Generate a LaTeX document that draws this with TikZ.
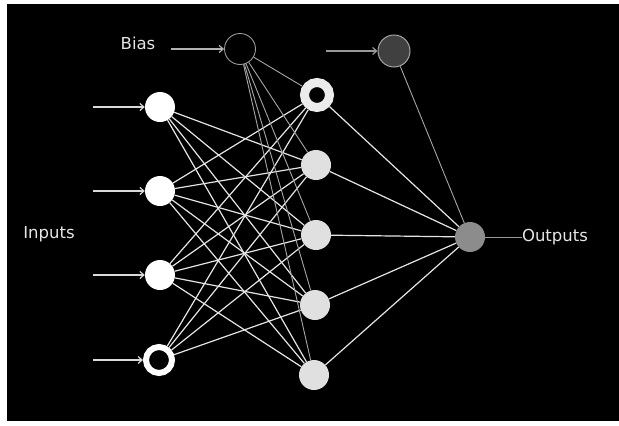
\documentclass[tikz,border=0pt]{standalone}
\usepackage{fontspec}
\setmainfont{DejaVu Sans}
\usetikzlibrary{arrows.meta}
\begin{document}
\begin{tikzpicture}[x=1pt,y=-1pt,
  neuron/.style={circle,inner sep=0pt,minimum size=30pt},
  innode/.style={neuron,fill=white},
  hidnode/.style={neuron,fill=black!12},
  ringin/.style={circle,inner sep=0pt,minimum size=26pt,draw=white,line width=6pt,fill=black},
  ringhid/.style={circle,inner sep=0pt,minimum size=25pt,draw=white!92!black,line width=9pt,fill=black},
  outnode/.style={neuron,fill=black!45},
  biasnode/.style={circle,inner sep=0pt,minimum size=31pt,draw=black!40,line width=0.9pt,fill=black},
  bias2node/.style={circle,inner sep=0pt,minimum size=32pt,draw=black!35,line width=1pt,fill=black!75},
  wire/.style={white!90!black,line width=1.2pt},
  biaswire/.style={black!35,line width=0.9pt},
  feed/.style={white!85!black,line width=1.2pt,-{Straight Barb[length=4pt,width=7pt]}},
  lbl/.style={text=white!90!black,font=\fontsize{16.5}{18}\selectfont,inner sep=0pt}
]
% frame
\fill[white] (0,0) rectangle (619,426);
\fill[black] (7,4) rectangle (619,421);
\useasboundingbox (0,0) rectangle (619,426);

% nodes
\node[innode] (i1) at (160,107) {};
\node[innode] (i2) at (160,191) {};
\node[innode] (i3) at (160,275) {};
\node[ringin] (i4) at (159,360) {};

\node[ringhid] (h1) at (317,95) {};
\node[hidnode] (h2) at (316,165) {};
\node[hidnode] (h3) at (316,235) {};
\node[hidnode] (h4) at (315,305) {};
\node[hidnode] (h5) at (314,375) {};

\node[outnode] (o) at (470,237) {};
\node[biasnode] (b1) at (240,49) {};
\node[bias2node] (b2) at (394,51) {};

% labels
\node[lbl] (tbias) at (138,43) {Bias};
\node[lbl] (tin) at (49,234) {Inputs};
\node[lbl] (tout) at (555,237) {Outputs};

% free ends
\coordinate (a1) at (93,107);
\coordinate (a2) at (93,191);
\coordinate (a3) at (93,275);
\coordinate (a4) at (93,360);
\coordinate (ab1) at (171,49);
\coordinate (ab2) at (326,51);

% input arrows
\draw[feed] (a1) -- (i1);
\draw[feed] (a2) -- (i2);
\draw[feed] (a3) -- (i3);
\draw[feed] (a4) -- (i4);
\draw[feed,white!70!black] (ab1) -- (b1);
\draw[feed,white!60!black] (ab2) -- (b2);

% connections
\foreach \h in {h2,h3,h4,h5}
  \draw[wire] (i1) -- (\h);
\foreach \i in {i2,i3}
  \foreach \h in {h1,h2,h3,h4,h5}
    \draw[wire] (\i) -- (\h);
\foreach \h in {h1,h2,h3,h4}
  \draw[wire] (i4) -- (\h);
\foreach \h in {h1,h2,h3,h4,h5}
  \draw[biaswire] (b1) -- (\h);
\foreach \h in {h1,h2,h3,h4,h5}
  \draw[wire] (\h) -- (o);
\draw[biaswire] (b2) -- (o);
\draw[black!40,line width=1pt] (o) -- (tout);
\end{tikzpicture}
\end{document}
